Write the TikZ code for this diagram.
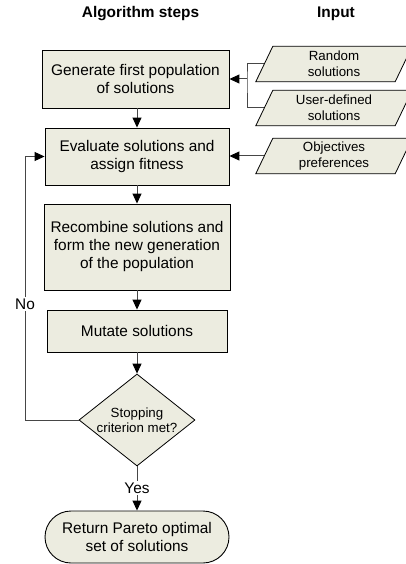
\documentclass[tikz,border=0pt]{standalone}
\usepackage{fontspec}
\setmainfont{Liberation Sans}
\usetikzlibrary{arrows.meta,shapes.geometric,backgrounds}
\definecolor{boxfill}{RGB}{236,236,224}
\definecolor{linegray}{RGB}{70,70,70}
\begin{document}
\begin{tikzpicture}[x=1pt,y=-1pt,
  stepbox/.style={draw=black, line width=0.9pt, fill=boxfill, inner sep=0pt, align=center,
    font=\fontsize{15.4}{18}\selectfont},
  inbox/.style={inner sep=0pt, align=center, minimum width=139pt, minimum height=35pt,
    font=\fontsize{13.3}{16}\selectfont},
  pshape/.style={draw=black, line width=0.8pt, fill=boxfill},
  hdr/.style={font=\fontsize{15.4}{18}\selectfont\bfseries, inner sep=0pt},
  lbl/.style={font=\fontsize{15.4}{18}\selectfont, fill=white, inner sep=1.5pt},
  plain/.style={draw=linegray, line width=1pt},
  conn/.style={draw=linegray, line width=1pt, -{Triangle[length=10pt,width=9pt,color=black]}}
]
\begin{scope}[on background layer]
\fill[white] (0,0) rectangle (406,564);
\end{scope}
\useasboundingbox (0,0) rectangle (406,564);
\clip (0,0) rectangle (406,564);

% headings
\node[hdr] (h1) at (140.5,14) {Algorithm steps};
\node[hdr] (h2) at (336,14) {Input};

% algorithm steps
\node[stepbox, minimum width=187pt, minimum height=58pt] (gen) at (135.5,79) {Generate first population\\of solutions};
\node[stepbox, minimum width=184pt, minimum height=57pt] (eval) at (137,156.5) {Evaluate solutions and\\assign fitness};
\node[stepbox, minimum width=186pt, minimum height=86pt] (rec) at (137,247) {Recombine solutions and\\form the new generation\\of the population};
\node[stepbox, minimum width=180pt, minimum height=42pt] (mut) at (137,331) {Mutate solutions};
\node[diamond, draw=black, line width=0.8pt, fill=boxfill, inner sep=0pt, minimum width=116pt, minimum height=92pt] (stop) at (137,420) {};
\node[align=center, inner sep=0pt, font=\fontsize{13.3}{15}\selectfont] (stoptxt) at (stop.center) {Stopping\\criterion met?};
\node[stepbox, rounded corners=26pt, minimum width=184pt, minimum height=52pt] (ret) at (137,537) {Return Pareto optimal\\set of solutions};

% inputs
\node[inbox] (rand) at (334,64) {Random\\solutions};
\node[inbox] (user) at (334,108) {User-defined\\solutions};
\node[inbox] (obj) at (334,156) {Objectives\\preferences};
\begin{scope}[on background layer]
\foreach \n in {rand,user,obj}
  \draw[pshape] ([xshift=8.5pt]\n.north west) -- ([xshift=8.5pt]\n.north east)
    -- ([xshift=-8.5pt]\n.south east) -- ([xshift=-8.5pt]\n.south west) -- cycle;
\end{scope}

% connectors
\coordinate (br) at (247,79);
\draw[plain] (rand.west) -| (br) |- (user.west);
\draw[conn] (br) -- (gen.east |- br);
\draw[conn] (obj.west) -- (eval.east |- obj.west);

\draw[conn] (eval.north |- gen.south) -- (eval.north);
\draw[conn] (eval.south) -- (rec.north);
\draw[conn] (rec.south) -- (mut.north);
\draw[conn] (mut.south) -- (stop.north);

\coordinate (lc) at (25,420);
\draw[conn] (stop.west) -- (lc) |- (eval.west);
\node[lbl] (no) at (25,304) {No};

\draw[conn] (stop.south) -- (ret.north);
\node[lbl] (yes) at (137,488) {Yes};
\end{tikzpicture}
\end{document}
